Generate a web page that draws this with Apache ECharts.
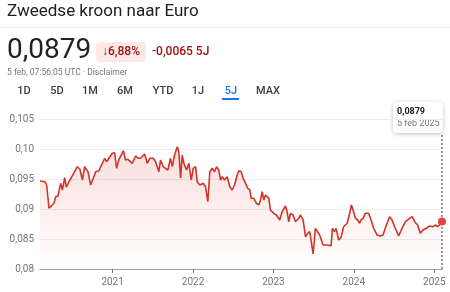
<!DOCTYPE html>
<html><head><meta charset="utf-8">
<script src="https://cdn.jsdelivr.net/npm/echarts@6/dist/echarts.min.js"></script>
<style>html,body{margin:0;padding:0;background:#fff}#c{width:450px;height:292px}</style>
</head><body><div id="c"></div>
<script>
// decimal-year positions of the samples
const dates = [2020.097,2020.159,2020.180,2020.209,2020.271,2020.292,2020.320,2020.354,2020.375,2020.404,2020.425,2020.457,2020.487,2020.528,2020.561,2020.594,2020.624,2020.652,2020.693,2020.727,2020.760,2020.789,2020.830,2020.851,2020.872,2020.901,2020.925,2020.954,2020.996,2021.025,2021.050,2021.078,2021.108,2021.133,2021.161,2021.190,2021.245,2021.286,2021.314,2021.348,2021.398,2021.431,2021.463,2021.506,2021.534,2021.575,2021.596,2021.630,2021.658,2021.687,2021.720,2021.742,2021.770,2021.804,2021.824,2021.845,2021.866,2021.886,2021.919,2021.948,2021.978,2022.002,2022.031,2022.052,2022.084,2022.127,2022.155,2022.184,2022.209,2022.239,2022.267,2022.292,2022.320,2022.342,2022.363,2022.391,2022.425,2022.457,2022.487,2022.516,2022.549,2022.569,2022.599,2022.624,2022.652,2022.681,2022.706,2022.723,2022.755,2022.789,2022.817,2022.839,2022.860,2022.880,2022.901,2022.942,2022.963,2023.004,2023.037,2023.053,2023.078,2023.108,2023.149,2023.170,2023.190,2023.211,2023.245,2023.273,2023.314,2023.335,2023.369,2023.398,2023.426,2023.451,2023.468,2023.493,2023.522,2023.543,2023.575,2023.617,2023.667,2023.717,2023.733,2023.758,2023.779,2023.811,2023.841,2023.873,2023.916,2023.948,2023.969,2023.990,2024.019,2024.047,2024.072,2024.089,2024.114,2024.143,2024.184,2024.214,2024.246,2024.288,2024.329,2024.363,2024.404,2024.445,2024.475,2024.507,2024.557,2024.599,2024.640,2024.661,2024.693,2024.723,2024.764,2024.793,2024.826,2024.860,2024.901,2024.942,2024.984,2025.012,2025.041,2025.075,2025.096];
// SEK -> EUR rate
const rates = [0.09467,0.09455,0.0940,0.09012,0.09095,0.09205,0.09217,0.09428,0.09317,0.09522,0.09362,0.09455,0.09528,0.09622,0.09705,0.09662,0.09483,0.09705,0.09622,0.0940,0.09512,0.09622,0.09638,0.09705,0.09762,0.09845,0.09788,0.09845,0.09928,0.09938,0.09678,0.09828,0.0990,0.09972,0.09817,0.09828,0.09762,0.09883,0.09845,0.09845,0.09917,0.09762,0.09845,0.09845,0.09788,0.09622,0.09817,0.09705,0.09678,0.0965,0.09845,0.09705,0.0990,0.10038,0.09955,0.09512,0.0990,0.09762,0.0965,0.09762,0.09483,0.09678,0.09705,0.09455,0.0940,0.09428,0.09372,0.09122,0.09622,0.09678,0.09622,0.09705,0.0965,0.09483,0.09538,0.09483,0.09538,0.09372,0.09317,0.0940,0.09567,0.09638,0.09622,0.09512,0.09428,0.09345,0.09317,0.09178,0.09178,0.09095,0.09067,0.0915,0.09288,0.0915,0.09233,0.09178,0.08983,0.08928,0.089,0.08872,0.08817,0.08955,0.0905,0.08955,0.08788,0.08928,0.089,0.08788,0.08845,0.089,0.08817,0.08538,0.08595,0.08622,0.08483,0.0825,0.08678,0.08678,0.08567,0.084,0.084,0.08388,0.08678,0.08622,0.08678,0.08483,0.08528,0.08705,0.08762,0.08928,0.09067,0.08983,0.08845,0.08817,0.08762,0.08817,0.08845,0.08928,0.08928,0.08817,0.08678,0.08567,0.0855,0.08567,0.08733,0.08872,0.08817,0.08705,0.0855,0.08678,0.08788,0.08762,0.08845,0.08872,0.08772,0.08733,0.08595,0.0865,0.08678,0.08717,0.08705,0.08733,0.08705,0.0875,0.0879];
const yearTicks = [2021, 2022, 2023, 2024, 2025];
const yTicks = {min: 0.08, max: 0.105, step: 0.005};
const title = 'Zweedse kroon naar Euro';
const changePct = '↓6,88%';
const changeAbs = '-0,0065 5J';
const stamp = '5 feb, 07:56:05 UTC · Disclaimer';
const tabs = ['1D','5D','1M','6M','YTD','1J','5J','MAX'];
const tabX = [24,57,90,125,163,198,231,268];
const lastLabel = '5 feb 2025';

const fmt = v => { let s = String(+v.toFixed(4)); let p = s.split('.'); let d = (p[1]||''); if (d.length < 2) d = (d + '00').slice(0,2); return p[0] + ',' + d; };
const last = rates[rates.length-1], lastX = dates[dates.length-1];
const data = dates.map((d,i)=>[d, rates[i]]);
const chart = echarts.init(document.getElementById('c'), null, {renderer:'canvas'});
const F = 'Roboto, Arial, sans-serif';
const graphics = [
  {type:'text', left:7, top:3, style:{text:title, font:'400 17px '+F, fill:'#202124'}},
  {type:'rect', shape:{x:0,y:27,width:450,height:1}, style:{fill:'#ebebeb'}},
  {type:'text', left:7, top:37, style:{text:fmt(last), font:'400 28px '+F, fill:'#202124'}},
  {type:'rect', shape:{x:96,y:42,width:50,height:20,r:4}, style:{fill:'#fce8e6'}},
  {type:'text', x:121, y:52, style:{text:changePct, font:'500 12px '+F, fill:'#a50e0e', align:'center', verticalAlign:'middle'}},
  {type:'text', x:152, y:52, style:{text:changeAbs, font:'500 12px '+F, fill:'#a50e0e', verticalAlign:'middle'}},
  {type:'text', x:7, y:73, style:{text:stamp, font:'400 8.5px '+F, fill:'#70757a', verticalAlign:'middle'}},
  {type:'rect', shape:{x:222,y:98,width:17,height:2}, style:{fill:'#1a73e8'}},
  {type:'group', children:[
    {type:'rect', shape:{x:393,y:102,width:50,height:31,r:4}, style:{fill:'#fff', shadowBlur:4, shadowColor:'rgba(0,0,0,0.25)', shadowOffsetY:1}},
    {type:'text', x:397, y:112, style:{text:fmt(last), font:'700 9px '+F, fill:'#202124', verticalAlign:'middle'}},
    {type:'text', x:397, y:124, style:{text:lastLabel, font:'400 9px '+F, fill:'#70757a', verticalAlign:'middle'}}
  ]}
];
tabs.forEach((t,i)=>graphics.push({type:'text', x:tabX[i], y:91, style:{text:t, font:'500 11px '+F, fill: t==='5J' ? '#1a73e8' : '#3c4043', align:'center', verticalAlign:'middle'}}));

chart.setOption({
  animation:false,
  grid:{left:40, right:8, top:119, bottom:23},
  xAxis:{type:'value', min:dates[0], max:lastX,
    axisLine:{show:true, lineStyle:{color:'#9aa0a6', width:1}},
    axisTick:{show:true, customValues:yearTicks, length:4, lineStyle:{color:'#70757a'}},
    axisLabel:{customValues:yearTicks, formatter:v=>String(Math.round(v)), color:'#70757a', fontSize:10, fontFamily:F, margin:8},
    splitLine:{show:false}},
  yAxis:{type:'value', min:yTicks.min, max:yTicks.max, interval:yTicks.step,
    axisLine:{show:false}, axisTick:{show:false},
    axisLabel:{formatter:fmt, color:'#70757a', fontSize:10, fontFamily:F, margin:6},
    splitLine:{lineStyle:{color:'#ececec', width:1}}},
  series:[{type:'line', data:data, showSymbol:false, smooth:false,
    lineStyle:{color:'#d2342a', width:1.6},
    areaStyle:{color:new echarts.graphic.LinearGradient(0,0,0,1,[{offset:0,color:'rgba(217,48,37,0.22)'},{offset:1,color:'rgba(217,48,37,0.0)'}])},
    markLine:{silent:true, symbol:'none', label:{show:false},
      lineStyle:{type:[2,2], color:'#70757a', width:1.5},
      data:[[{coord:[lastX, yTicks.min]},{coord:[lastX, 0.10267]}]]},
    markPoint:{silent:true, symbol:'circle', symbolSize:8, label:{show:false},
      itemStyle:{color:'#e2463b'}, data:[{coord:[lastX, last]}]}
  }],
  graphic:graphics
});
</script></body></html>
